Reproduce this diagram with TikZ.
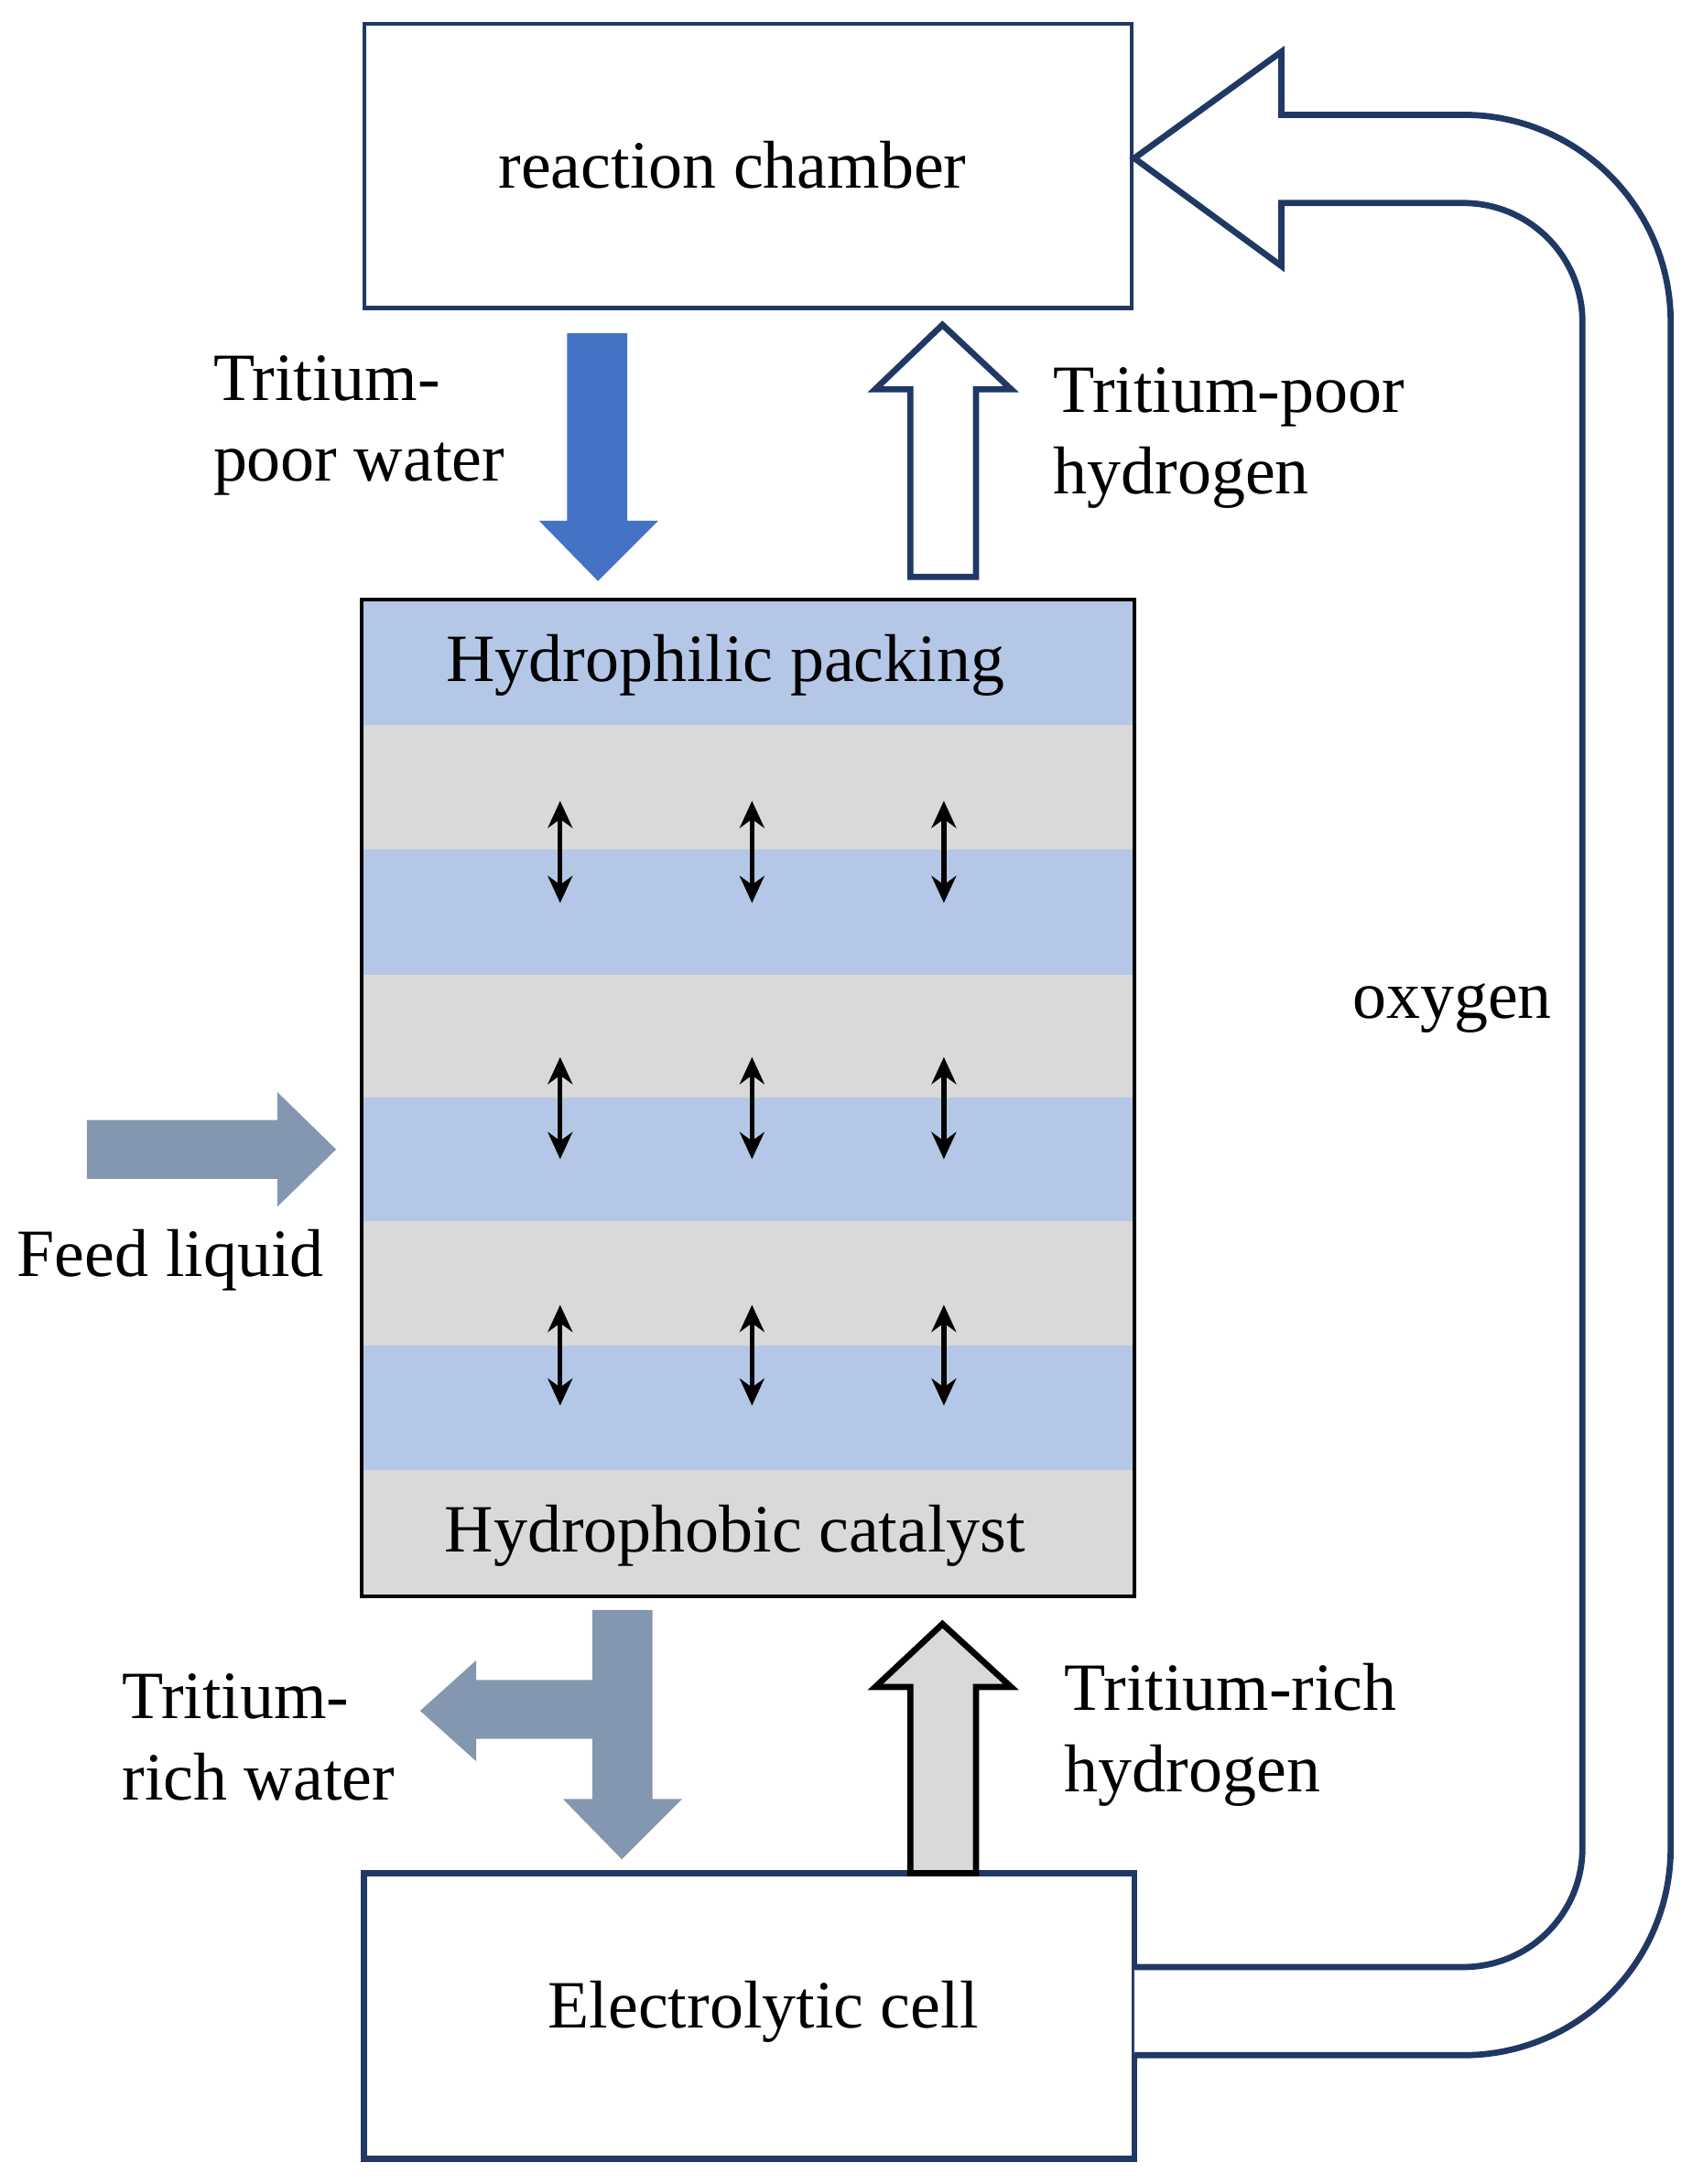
\documentclass[tikz,border=0pt]{standalone}
\usepackage{fontspec}
\setmainfont{Liberation Serif}
\usetikzlibrary{arrows.meta}
\definecolor{navy}{HTML}{203864}
\definecolor{lblue}{HTML}{B4C7E7}
\definecolor{lgray}{HTML}{D9D9D9}
\definecolor{mblue}{HTML}{4472C4}
\definecolor{sblue}{HTML}{8497B0}
\begin{document}
\begin{tikzpicture}[x=0.02cm,y=-0.02cm,
  lab/.style={font=\fontsize{27.5}{33}\selectfont, align=left, anchor=west, inner sep=0},
  ctr/.style={font=\fontsize{27.5}{33}\selectfont, inner sep=0},
  dbl/.style={{Stealth[length=11pt,width=10pt]}-{Stealth[length=11pt,width=10pt]}, line width=2pt}]
\useasboundingbox (0,0) rectangle (1216,1560);
% reaction chamber
\node[draw=navy, line width=1.5pt, minimum width=548*0.02cm, minimum height=203*0.02cm] (rc) at (534,118.5) {};
\node[ctr] (rct) at (523,118) {reaction chamber};
% column bands
\foreach \y/\c in {428/lblue,518/lgray,607/lblue,696/lgray,784/lblue,872/lgray,961/lblue,1050/lgray}
  \fill[\c] (258,\y) rectangle (810,\y+90);
\draw[line width=1.5pt] (258,428) rectangle (810,1140);
\node[ctr] (hp) at (518,475) {Hydrophilic packing};
\node[ctr] (hc) at (525,1097) {Hydrophobic catalyst};
\foreach \x in {400,537,674}
  \foreach \a/\b in {572/645,755/828,932/1004}
    \draw[dbl] (\x,\a) -- (\x,\b);
% electrolytic cell
\node[draw=navy, line width=2.5pt, minimum width=550*0.02cm, minimum height=204*0.02cm] (ec) at (535,1440) {};
\node[ctr] (ect) at (545,1437) {Electrolytic cell};
% tritium-poor water arrow
\fill[mblue] (405,238) -- (448,238) -- (448,372) -- (470,372) -- (427,415) -- (385,372) -- (405,372) -- cycle;
% tritium-poor hydrogen
\draw[navy, line width=2.5pt, fill=white] (650,412) -- (697,412) -- (697,278) -- (722,278) -- (673,232) -- (625,278) -- (650,278) -- cycle;
% feed liquid
\fill[sblue] (62,800) -- (198,800) -- (198,780) -- (240,821) -- (198,862) -- (198,842) -- (62,842) -- cycle;
% tritium-rich water
\fill[sblue] (423,1150) -- (466,1150) -- (466,1285) -- (487,1285) -- (444,1328) -- (402,1285) -- (423,1285) -- (423,1242) -- (340,1242) -- (340,1258) -- (300,1222) -- (340,1186) -- (340,1200) -- (423,1200) -- cycle;
% tritium-rich hydrogen
\draw[black, line width=2.5pt, fill=lgray] (650,1338) -- (697,1338) -- (697,1205) -- (722,1205) -- (673,1160) -- (625,1205) -- (650,1205) -- cycle;
% oxygen loop
\draw[navy, line width=2.5pt, fill=white] (810,1405) -- (1045,1405) arc[start angle=90, end angle=0, radius=85] -- (1130,230)
  arc[start angle=0, end angle=-90, radius=85] -- (915,145) -- (915,190) -- (810,113) -- (915,37) -- (915,82) -- (1045,82)
  arc[start angle=-90, end angle=0, radius=148] -- (1193,1320) arc[start angle=0, end angle=90, radius=148] -- (810,1468);
\node[ctr] (ox) at (1037,720) {oxygen};
% labels
\node[lab] (l1) at (152,304) {Tritium-\\poor water};
\node[lab] (l2) at (752,313) {Tritium-poor\\hydrogen};
\node[lab] (l3) at (12,900) {Feed liquid};
\node[lab] (l4) at (87,1241) {Tritium-\\rich water};
\node[lab] (l5) at (760,1239) {Tritium-rich\\hydrogen};
\end{tikzpicture}
\end{document}
